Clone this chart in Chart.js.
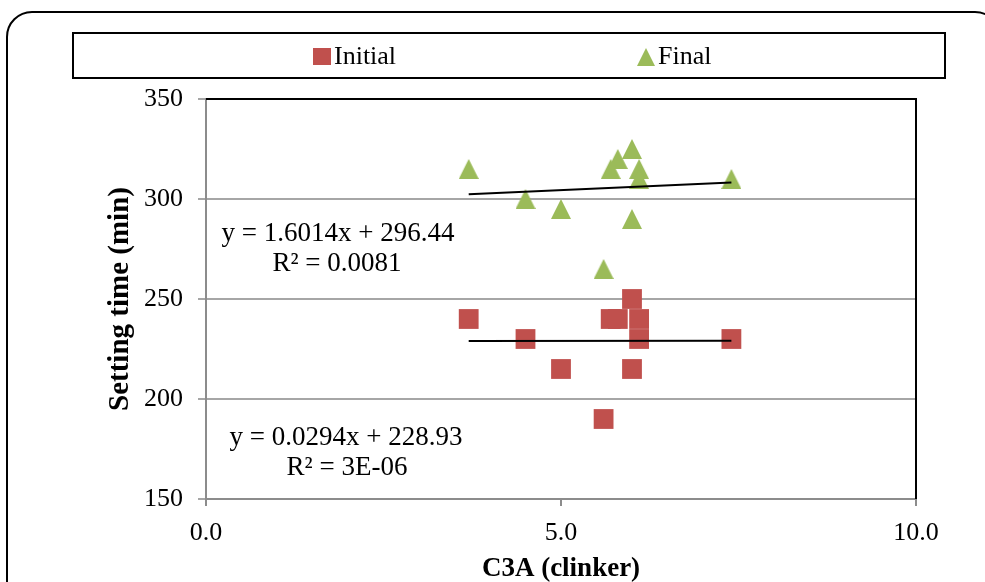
<!DOCTYPE html>
<html>
<head>
<meta charset="utf-8">
<script src="https://cdn.jsdelivr.net/npm/chart.js@4/dist/chart.umd.min.js"></script>
<style>
	html, body { margin: 0; padding: 0; background: #fff; }
	canvas { display: block; }
</style>
</head>
<body>
<canvas id="chart" width="985" height="582"></canvas>
<script>
// C3A content of clinker vs. setting time
const c3a = [3.7, 4.5, 5.0, 5.6, 5.7, 5.8, 6.0, 6.0, 6.1, 6.1, 7.4];
const initialTime = [240, 230, 215, 190, 240, 240, 250, 215, 240, 230, 230];
const finalTime = [315, 300, 295, 265, 315, 320, 325, 290, 315, 310, 310];

// trendline coefficients as printed on the chart
const initialFit = { slope: 0.0294, intercept: 228.93 };
const finalFit = { slope: 1.6014, intercept: 296.44 };
const initialEq = ['y = 0.0294x + 228.93', 'R² = 3E-06'];
const finalEq = ['y = 1.6014x + 296.44', 'R² = 0.0081'];

const xTicks = [0, 5, 10];
const yTicks = [150, 200, 250, 300, 350];
const seriesNames = ['Initial', 'Final'];
const axisTitles = { x: 'C3A (clinker)', y: 'Setting time (min)' };

const RED = '#C0504D';
const GREEN = '#9BBB59';
const FONT = "'Liberation Serif', 'Times New Roman', serif";

function triangleImg(size, color) {
	const c = document.createElement('canvas');
	c.width = size;
	c.height = size;
	const g = c.getContext('2d');
	g.fillStyle = color;
	g.beginPath();
	g.moveTo(size / 2, 0);
	g.lineTo(size, size);
	g.lineTo(0, size);
	g.closePath();
	g.fill();
	return c;
}
const triImg = triangleImg(20, GREEN);

function points(xs, ys) {
	return xs.map((x, i) => ({ x: x, y: ys[i] }));
}

function trend(fit) {
	const lo = Math.min(...c3a);
	const hi = Math.max(...c3a);
	return [
		{ x: lo, y: fit.intercept + fit.slope * lo },
		{ x: hi, y: fit.intercept + fit.slope * hi }
	];
}

const decorPlugin = {
	id: 'decor',
	beforeDatasetsDraw(chart) {
		const ctx = chart.ctx;
		const a = chart.chartArea;
		ctx.save();
		ctx.strokeStyle = '#000';
		ctx.lineWidth = 2;
		ctx.beginPath();
		ctx.moveTo(a.left, a.top);
		ctx.lineTo(a.right, a.top);
		ctx.lineTo(a.right, a.bottom);
		ctx.stroke();
		ctx.restore();
	},
	afterDraw(chart) {
		const ctx = chart.ctx;
		ctx.save();
		// outer rounded frame
		ctx.strokeStyle = '#000';
		ctx.lineWidth = 2;
		ctx.beginPath();
		ctx.roundRect(7, 12, 993, 600, 25);
		ctx.stroke();

		// legend box
		ctx.strokeRect(73, 33, 872, 45);
		ctx.fillStyle = RED;
		ctx.fillRect(313, 48, 18, 17);
		ctx.drawImage(triangleImg(18, GREEN), 637, 48);
		ctx.fillStyle = '#000';
		ctx.font = '26px ' + FONT;
		ctx.textBaseline = 'middle';
		ctx.textAlign = 'left';
		ctx.fillText(seriesNames[0], 334, 57);
		ctx.fillText(seriesNames[1], 658, 57);

		// trendline equations
		ctx.font = '27px ' + FONT;
		ctx.textAlign = 'center';
		ctx.fillText(finalEq[0], 338, 234);
		ctx.fillText(finalEq[1], 337, 264);
		ctx.fillText(initialEq[0], 346, 438);
		ctx.fillText(initialEq[1], 347, 468);
		ctx.restore();
	}
};

new Chart(document.getElementById('chart'), {
	type: 'scatter',
	data: {
		datasets: [
			{ label: seriesNames[0], data: points(c3a, initialTime), backgroundColor: RED, borderColor: RED, pointStyle: 'rect', pointRadius: 14, pointBorderWidth: 0, order: 1 },
			{ label: seriesNames[1], data: points(c3a, finalTime), pointStyle: triImg, pointRadius: 10, order: 1 },
			{ type: 'line', label: 'Linear (Initial)', data: trend(initialFit), borderColor: '#000', borderWidth: 2, pointRadius: 0, order: 0 },
			{ type: 'line', label: 'Linear (Final)', data: trend(finalFit), borderColor: '#000', borderWidth: 2, pointRadius: 0, order: 0 }
		]
	},
	options: {
		responsive: false,
		animation: false,
		devicePixelRatio: 1,
		layout: { padding: { top: 99, right: 69, left: 100, bottom: 0 } },
		plugins: {
			legend: { display: false },
			tooltip: { enabled: false }
		},
		scales: {
			x: {
				type: 'linear',
				min: 0,
				max: 10,
				afterBuildTicks: (s) => { s.ticks = xTicks.map(v => ({ value: v })); },
				afterFit: (s) => { s.height = 83; },
				ticks: { color: '#000', font: { family: FONT, size: 26 }, padding: 12, callback: (v) => Number(v).toFixed(1) },
				grid: { drawOnChartArea: false, drawTicks: true, tickLength: 7, color: '#8C8C8C', lineWidth: 2 },
				border: { display: true, color: '#8C8C8C', width: 2 },
				title: { display: true, text: axisTitles.x, color: '#000', font: { family: FONT, size: 27, weight: 'bold' }, padding: { top: 0, bottom: -3 } }
			},
			y: {
				type: 'linear',
				min: 150,
				max: 350,
				afterBuildTicks: (s) => { s.ticks = yTicks.map(v => ({ value: v })); },
				afterFit: (s) => { s.width = 106; },
				ticks: { color: '#000', font: { family: FONT, size: 26 }, padding: 15 },
				grid: { color: '#A6A6A6', lineWidth: 2, drawTicks: true, tickLength: 8 },
				border: { display: true, color: '#8C8C8C', width: 2 },
				title: { display: true, text: axisTitles.y, color: '#000', font: { family: FONT, size: 29, weight: 'bold' }, padding: { top: 3, bottom: 0 } }
			}
		}
	},
	plugins: [decorPlugin]
});
</script>
</body>
</html>
